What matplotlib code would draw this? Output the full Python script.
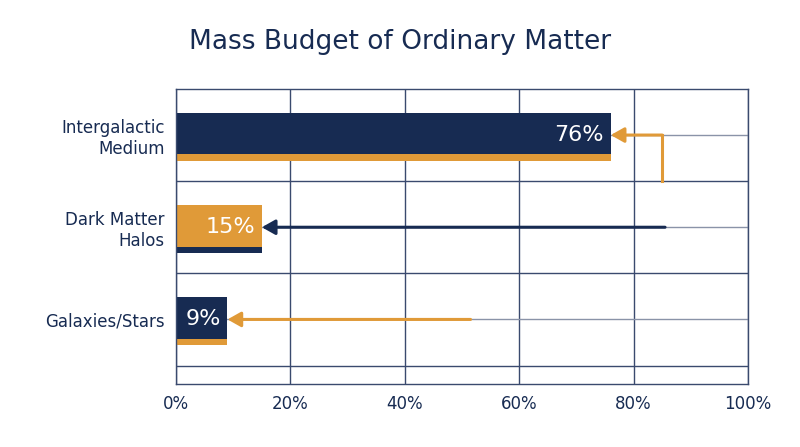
import matplotlib
matplotlib.use("Agg")
import matplotlib.pyplot as plt

categories = ["Intergalactic\nMedium", "Dark Matter\nHalos", "Galaxies/Stars"]
values = [76, 15, 9]
labels = ["76%", "15%", "9%"]
arrow_starts = [85, 85.5, 51.5]
xticks = [0, 20, 40, 60, 80, 100]
xticklabels = ["0%", "20%", "40%", "60%", "80%", "100%"]

NAVY = "#172b52"
GOLD = "#e09a38"
main_colors = [NAVY, GOLD, NAVY]
under_colors = [GOLD, NAVY, GOLD]
arrow_colors = [GOLD, NAVY, GOLD]

fig = plt.figure(figsize=(8, 4.47), dpi=100)
ax = fig.add_axes([0.22, 0.141, 0.715, 0.66])
ax.set_xlim(0, 100)
ax.set_ylim(2.7, -0.5)

for x in xticks:
    ax.axvline(x, color="#3a4a6e", lw=1, zorder=0)
for y in [0.5, 1.5, 2.5]:
    ax.axhline(y, color="#3a4a6e", lw=1, zorder=0)
for y in [0, 1, 2]:
    ax.axhline(y, color="#8a93a8", lw=1, zorder=0)

for i, v in enumerate(values):
    ax.barh(i - 0.015, v, height=0.45, color=main_colors[i], zorder=2)
    ax.barh(i + 0.245, v, height=0.07, color=under_colors[i], zorder=2)
    ax.text(v - 1.2, i, labels[i], color="white", fontsize=16, fontweight="medium",
            ha="right", va="center", zorder=4)
    if i == 0:
        ax.plot([arrow_starts[i], arrow_starts[i]], [0.5, 0], color=GOLD, lw=2.2, zorder=3)
    ax.annotate("", xy=(v, i), xytext=(arrow_starts[i], i),
                arrowprops=dict(arrowstyle="-|>,head_length=0.8,head_width=0.45",
                                color=arrow_colors[i], lw=2.2, shrinkA=0, shrinkB=0),
                zorder=3)

ax.set_xticks(xticks)
ax.set_xticklabels(xticklabels, fontsize=12, color=NAVY)
ax.set_yticks([0, 1, 2])
ax.set_yticklabels(categories, fontsize=12, color=NAVY, linespacing=1.2)
ax.tick_params(length=0, pad=8)
for s in ax.spines.values():
    s.set_color("#3a4a6e")
    s.set_linewidth(1)

fig.text(0.5, 0.905, "Mass Budget of Ordinary Matter", ha="center", va="center",
         fontsize=19, color=NAVY)
fig.savefig("out.png", dpi=100)
